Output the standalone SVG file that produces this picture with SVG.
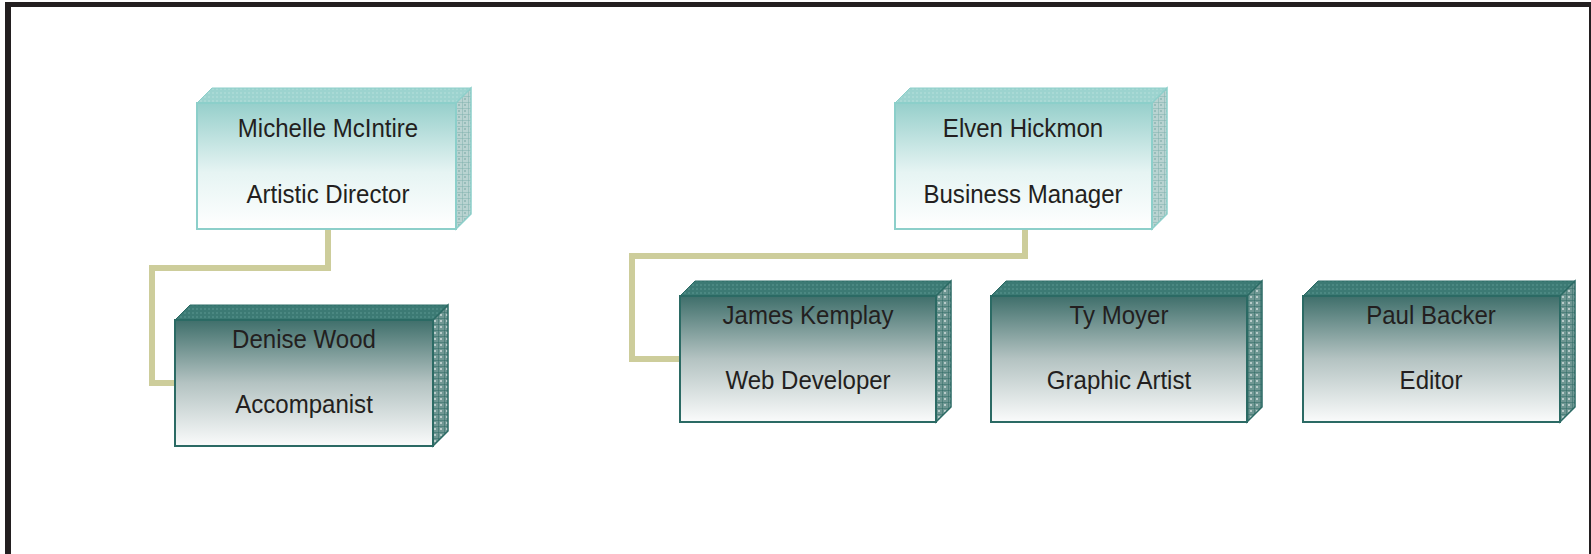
<svg xmlns="http://www.w3.org/2000/svg" width="1591" height="554" viewBox="0 0 1591 554">
  <style>
    .lbl { font-family: "Liberation Sans", Arial, sans-serif; font-size: 26px; fill: #231f20; text-anchor: middle; }
    .link { fill: none; stroke: #cdcd9b; stroke-width: 6; stroke-linejoin: miter; }
    .upFront { fill: url(#gradUp); stroke: #8ccfca; stroke-width: 2; }
    .upTop { fill: url(#meshUpTop); stroke: #8ccfca; stroke-width: 1; }
    .upSide { fill: url(#meshUpSide); stroke: #8ccfca; stroke-width: 1.5; }
    .loFront { fill: url(#gradLo); stroke: #2b6a64; stroke-width: 2; }
    .loTop { fill: url(#meshLoTop); stroke: #2b6a64; stroke-width: 1; }
    .loSide { fill: url(#meshLoSide); stroke: #2b6a64; stroke-width: 1.5; }
  </style>
  <defs>
    <linearGradient id="gradUp" x1="0" y1="0" x2="0" y2="1">
      <stop offset="0" stop-color="#96cfcb"/>
      <stop offset="0.55" stop-color="#e6f4f3"/>
      <stop offset="1" stop-color="#ffffff"/>
    </linearGradient>
    <linearGradient id="gradLo" x1="0" y1="0" x2="0" y2="1">
      <stop offset="0" stop-color="#3f6f6b"/>
      <stop offset="0.5" stop-color="#b4c3c2"/>
      <stop offset="1" stop-color="#fafbfb"/>
    </linearGradient>
    <pattern id="meshUpTop" width="4" height="4" patternUnits="userSpaceOnUse">
      <rect width="4" height="4" fill="#9cd3cf"/>
      <rect width="2" height="2" fill="#a9d9d5"/>
    </pattern>
    <pattern id="meshUpSide" width="6" height="6" patternUnits="userSpaceOnUse">
      <rect width="6" height="6" fill="#b9d3d1"/>
      <path d="M0 0H6M0 0V6" stroke="#7fb1ad" stroke-width="1"/>
      <rect x="2" y="2" width="2" height="2" fill="#98bdba"/>
    </pattern>
    <pattern id="meshLoTop" width="4" height="4" patternUnits="userSpaceOnUse">
      <rect width="4" height="4" fill="#3c7a74"/>
      <rect width="2" height="2" fill="#4b8882"/>
    </pattern>
    <pattern id="meshLoSide" width="6" height="6" patternUnits="userSpaceOnUse">
      <rect width="6" height="6" fill="#6f9793"/>
      <path d="M0 0H6M0 0V6" stroke="#2f6b66" stroke-width="1"/>
      <rect x="2" y="2" width="2" height="2" fill="#b7cbc9"/>
    </pattern>
  </defs>

  <!-- page frame -->
  <rect x="0" y="0" width="1591" height="554" fill="#ffffff"/>
  <rect x="5" y="2" width="1586" height="5" fill="#231f20"/>
  <rect x="5" y="2" width="6" height="552" fill="#231f20"/>
  <rect x="1589" y="2" width="2" height="552" fill="#231f20"/>

  <!-- reporting lines -->
  <g id="connectors">
    <path class="link" d="M328 230V268H152V383H175"/>
    <path class="link" d="M1025 230V256H632V359H680"/>
  </g>

  <!-- Michelle McIntire -->
  <g id="node-mcintire">
    <polygon class="upTop" points="197,103 212,88 471,88 456,103"/>
    <polygon class="upSide" points="456,103 471,88 471,214 456,229"/>
    <rect class="upFront" x="197" y="103" width="259" height="126"/>
    <text class="lbl" transform="translate(328,137) scale(0.925,1)">Michelle McIntire</text>
    <text class="lbl" transform="translate(328,203) scale(0.925,1)">Artistic Director</text>
  </g>

  <!-- Elven Hickmon -->
  <g id="node-hickmon">
    <polygon class="upTop" points="895,103 910,88 1167,88 1152,103"/>
    <polygon class="upSide" points="1152,103 1167,88 1167,214 1152,229"/>
    <rect class="upFront" x="895" y="103" width="257" height="126"/>
    <text class="lbl" transform="translate(1023,137) scale(0.925,1)">Elven Hickmon</text>
    <text class="lbl" transform="translate(1023,203) scale(0.925,1)">Business Manager</text>
  </g>

  <!-- Denise Wood -->
  <g id="node-wood">
    <polygon class="loTop" points="175,320 190,305 448,305 433,320"/>
    <polygon class="loSide" points="433,320 448,305 448,431 433,446"/>
    <rect class="loFront" x="175" y="320" width="258" height="126"/>
    <text class="lbl" transform="translate(304,348) scale(0.925,1)">Denise Wood</text>
    <text class="lbl" transform="translate(304,413) scale(0.925,1)">Accompanist</text>
  </g>

  <!-- James Kemplay -->
  <g id="node-kemplay">
    <polygon class="loTop" points="680,296 695,281 951,281 936,296"/>
    <polygon class="loSide" points="936,296 951,281 951,407 936,422"/>
    <rect class="loFront" x="680" y="296" width="256" height="126"/>
    <text class="lbl" transform="translate(808,324) scale(0.925,1)">James Kemplay</text>
    <text class="lbl" transform="translate(808,389) scale(0.925,1)">Web Developer</text>
  </g>

  <!-- Ty Moyer -->
  <g id="node-moyer">
    <polygon class="loTop" points="991,296 1006,281 1262,281 1247,296"/>
    <polygon class="loSide" points="1247,296 1262,281 1262,407 1247,422"/>
    <rect class="loFront" x="991" y="296" width="256" height="126"/>
    <text class="lbl" transform="translate(1119,324) scale(0.925,1)">Ty Moyer</text>
    <text class="lbl" transform="translate(1119,389) scale(0.925,1)">Graphic Artist</text>
  </g>

  <!-- Paul Backer -->
  <g id="node-backer">
    <polygon class="loTop" points="1303,296 1318,281 1575,281 1560,296"/>
    <polygon class="loSide" points="1560,296 1575,281 1575,407 1560,422"/>
    <rect class="loFront" x="1303" y="296" width="257" height="126"/>
    <text class="lbl" transform="translate(1431,324) scale(0.925,1)">Paul Backer</text>
    <text class="lbl" transform="translate(1431,389) scale(0.925,1)">Editor</text>
  </g>
</svg>
